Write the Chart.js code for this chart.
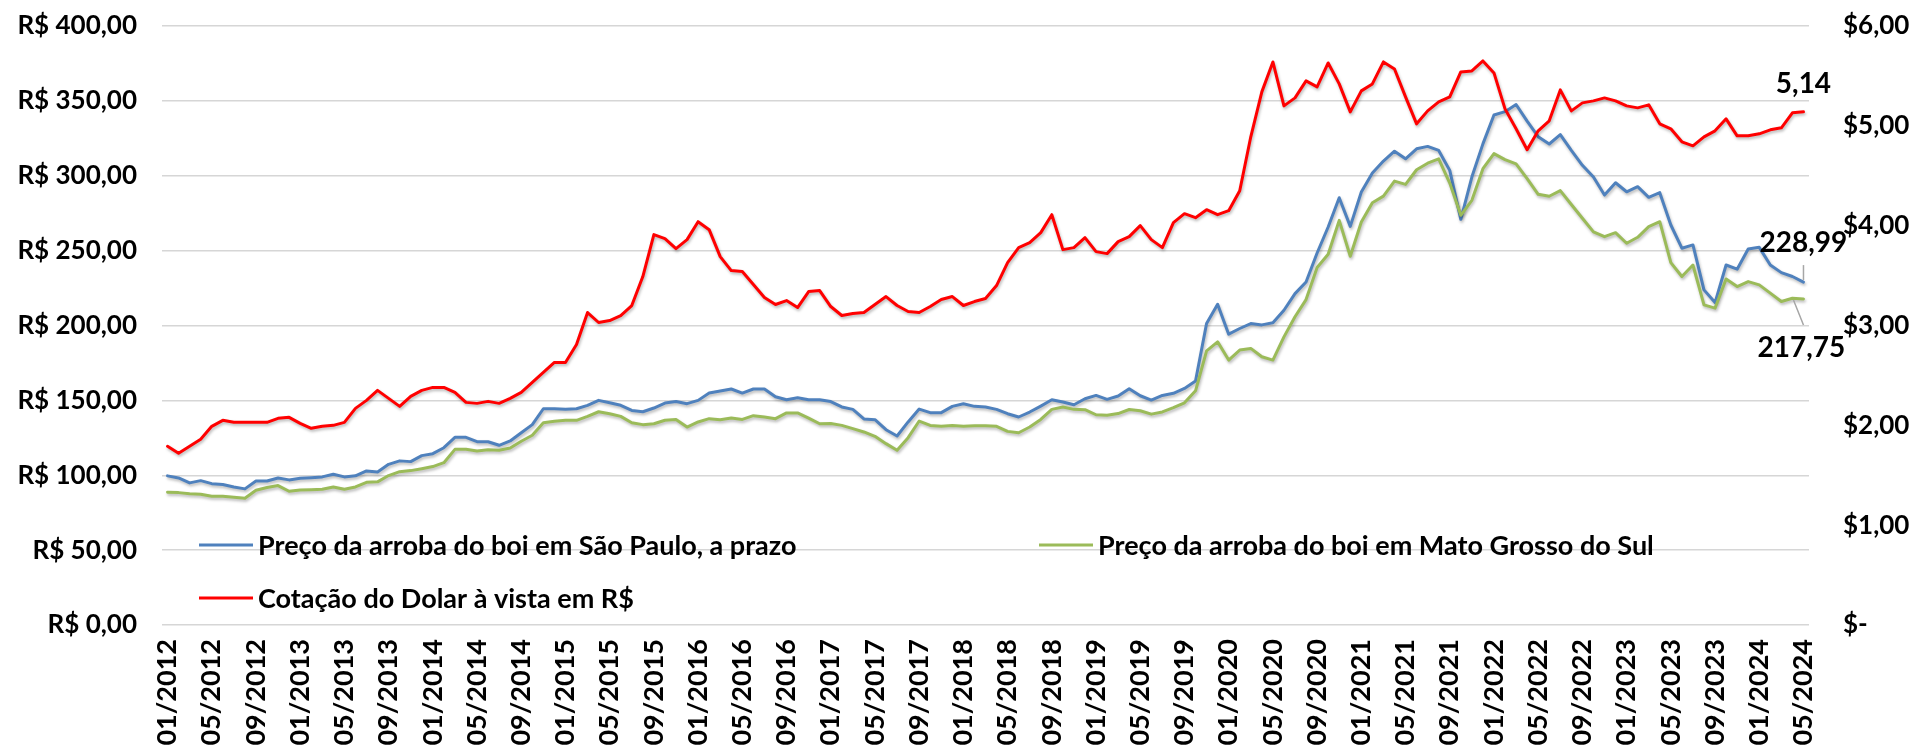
<!DOCTYPE html>
<html>
<head>
<meta charset="utf-8">
<script src="https://cdn.jsdelivr.net/npm/chart.js@4.4.1/dist/chart.umd.min.js"></script>
<style>
html,body{margin:0;padding:0;background:#fff;}
#wrap{width:1916px;height:747px;position:relative;}
</style>
</head>
<body>
<div id="wrap"><canvas id="c" width="1916" height="747"></canvas></div>
<script>
// ---- DATA ----
const startYear = 2012, endYear = 2024, endMonth = 5;
const months = [];
for (let y = startYear; y <= endYear; y++) {
  for (let m = 1; m <= 12; m++) {
    if (y === endYear && m > endMonth) break;
    months.push(String(m).padStart(2, '0') + '/' + y);
  }
}

const seriesNames = [
  'Preço da arroba do boi em São Paulo, a prazo',
  'Preço da arroba do boi em Mato Grosso do Sul',
  'Cotação do Dolar à vista em R$'
];

// Preço da arroba do boi em São Paulo, a prazo (R$)
const boiSP = [
  99.6, 98.2, 94.9, 96.4, 94.4, 93.8, 92.2, 90.9, 96.2, 96.2, 98.2, 96.9,
  98.0, 98.4, 98.9, 100.7, 98.9, 99.6, 102.9, 102.2, 107.3, 109.6, 109.1, 113.1,
  114.4, 118.4, 125.3, 125.3, 122.4, 122.4, 120.0, 122.9, 128.4, 133.8, 144.4, 144.4,
  144.0, 144.4, 146.7, 150.0, 148.4, 146.7, 143.3, 142.4, 144.9, 148.2, 149.3, 147.8,
  150.0, 154.9, 156.2, 157.6, 154.9, 157.6, 157.6, 152.4, 150.4, 151.8, 150.4, 150.4,
  149.2, 145.6, 144.0, 137.6, 137.1, 130.4, 126.2, 135.6, 144.2, 141.8, 141.8, 146.0,
  147.8, 146.0, 145.6, 144.0, 141.1, 138.9, 142.2, 146.2, 150.4, 148.9, 147.1, 151.1,
  153.3, 150.7, 152.9, 157.8, 153.1, 150.2, 153.3, 154.7, 158.0, 162.9, 201.3, 214.2,
  194.2, 198.0, 201.3, 200.4, 201.8, 210.2, 221.3, 229.1, 248.4, 265.8, 285.3, 266.2,
  289.1, 301.8, 309.8, 316.4, 311.3, 318.0, 319.6, 316.9, 303.6, 270.9, 299.1, 321.3,
  340.6, 342.8, 347.6, 336.5, 326.1, 321.2, 327.5, 317.0, 307.0, 299.2, 287.1, 295.3,
  289.3, 292.7, 285.6, 288.7, 267.1, 251.6, 253.8, 223.8, 215.3, 240.4, 237.6, 251.1,
  252.2, 240.4, 235.3, 232.7, 228.99
];

// Preço da arroba do boi em Mato Grosso do Sul (R$)
const boiMS = [
  88.7, 88.4, 87.6, 87.3, 86.0, 86.0, 85.3, 84.7, 90.0, 91.8, 93.1, 89.3,
  90.2, 90.4, 90.7, 92.2, 90.7, 92.2, 95.3, 95.6, 99.8, 102.4, 103.1, 104.4,
  105.8, 108.4, 117.3, 117.3, 116.2, 117.1, 116.7, 118.2, 122.7, 126.7, 135.1, 136.0,
  136.7, 136.7, 139.3, 142.4, 141.1, 139.3, 135.1, 133.8, 134.4, 136.7, 137.3, 132.2,
  135.6, 137.8, 137.1, 138.2, 137.3, 139.8, 138.9, 137.8, 141.6, 141.6, 138.2, 134.4,
  134.6, 133.3, 131.1, 128.9, 126.0, 121.1, 116.7, 125.1, 136.2, 133.3, 132.7, 133.3,
  132.7, 133.1, 133.1, 132.7, 129.3, 128.4, 132.2, 137.3, 144.0, 145.6, 144.0, 143.8,
  140.4, 140.1, 141.2, 143.9, 143.1, 140.8, 142.3, 145.1, 148.4, 156.4, 183.1, 189.1,
  176.9, 183.6, 184.7, 179.1, 176.9, 192.4, 205.8, 217.3, 238.7, 247.6, 270.2, 246.2,
  269.1, 282.0, 286.4, 296.4, 294.2, 304.0, 308.4, 311.3, 295.1, 273.6, 283.6, 304.7,
  314.8, 310.8, 307.9, 298.1, 287.6, 286.3, 290.1, 280.8, 271.6, 262.5, 259.3, 262.0,
  254.9, 258.9, 266.0, 269.3, 242.0, 232.7, 240.4, 213.8, 211.6, 231.1, 226.0, 229.3,
  227.1, 221.6, 216.0, 218.2, 217.75
];

// Cotação do Dolar à vista em R$ (eixo direito)
const dolar = [
  1.79, 1.72, 1.79, 1.86, 1.99, 2.05, 2.03, 2.03, 2.03, 2.03, 2.07, 2.08,
  2.02, 1.97, 1.99, 2.00, 2.03, 2.17, 2.25, 2.35, 2.27, 2.19, 2.29, 2.35,
  2.38, 2.38, 2.33, 2.23, 2.22, 2.24, 2.22, 2.27, 2.33, 2.43, 2.53, 2.63,
  2.63, 2.81, 3.13, 3.03, 3.05, 3.10, 3.20, 3.49, 3.91, 3.87, 3.77, 3.86,
  4.04, 3.96, 3.69, 3.55, 3.54, 3.41, 3.28, 3.21, 3.25, 3.18, 3.34, 3.35,
  3.19, 3.10, 3.12, 3.13, 3.21, 3.29, 3.20, 3.14, 3.13, 3.19, 3.26, 3.29,
  3.20, 3.24, 3.27, 3.40, 3.63, 3.78, 3.83, 3.93, 4.11, 3.76, 3.78, 3.88,
  3.74, 3.72, 3.84, 3.89, 4.00, 3.86, 3.78, 4.03, 4.12, 4.08, 4.16, 4.11,
  4.15, 4.35, 4.89, 5.34, 5.64, 5.20, 5.28, 5.45, 5.39, 5.63, 5.42, 5.14,
  5.35, 5.42, 5.64, 5.57, 5.29, 5.02, 5.15, 5.24, 5.29, 5.54, 5.55, 5.65,
  5.53, 5.17, 4.97, 4.76, 4.95, 5.05, 5.36, 5.15, 5.23, 5.25, 5.28, 5.25,
  5.20, 5.18, 5.21, 5.02, 4.97, 4.84, 4.80, 4.89, 4.95, 5.07, 4.90, 4.90,
  4.92, 4.96, 4.98, 5.13, 5.14
];

const leftTicks = [0, 50, 100, 150, 200, 250, 300, 350, 400];
const rightTicks = [0, 1, 2, 3, 4, 5, 6];

// ---- CHART ----
const FONT = 'Lato';
const fmtBR = v => v.toFixed(2).replace('.', ',');

const shadowPlugin = {
  id: 'shadow',
  beforeDatasetDraw(chart) {
    const ctx = chart.ctx;
    ctx.save();
    ctx.shadowColor = 'rgba(0,0,0,0.28)';
    ctx.shadowBlur = 3;
    ctx.shadowOffsetX = 1;
    ctx.shadowOffsetY = 2;
  },
  afterDatasetDraw(chart) { chart.ctx.restore(); }
};

const annotPlugin = {
  id: 'annot',
  afterDraw(chart) {
    const ctx = chart.ctx;
    const ca = chart.chartArea;
    ctx.save();
    ctx.fillStyle = '#000';
    // legend (drawn inside the plot area)
    ctx.font = 'bold 27px ' + FONT;
    const items = [
      { ds: 0, dx: 37, dy: 519 },
      { ds: 1, dx: 877, dy: 519 },
      { ds: 2, dx: 37, dy: 572 }
    ];
    items.forEach(it => {
      const d = chart.data.datasets[it.ds];
      const x = ca.left + it.dx, y = ca.top + it.dy;
      ctx.strokeStyle = d.borderColor;
      ctx.lineWidth = 3;
      ctx.beginPath(); ctx.moveTo(x, y); ctx.lineTo(x + 54, y); ctx.stroke();
      ctx.textAlign = 'left'; ctx.textBaseline = 'middle';
      ctx.fillText(d.label, x + 59, y + 1);
    });
    // data labels on last points
    ctx.font = 'bold 28px ' + FONT;
    const lastPt = di => { const m = chart.getDatasetMeta(di).data; return m[m.length - 1]; };
    const pB = lastPt(0), pG = lastPt(1), pR = lastPt(2);
    ctx.textAlign = 'center'; ctx.textBaseline = 'alphabetic';
    ctx.fillText(fmtBR(dolar[dolar.length - 1]), pR.x, pR.y - 19);
    ctx.fillText(fmtBR(boiSP[boiSP.length - 1]), pB.x, pB.y - 30);
    ctx.fillText(fmtBR(boiMS[boiMS.length - 1]), pG.x - 2, pG.y + 58);
    ctx.strokeStyle = '#a6a6a6'; ctx.lineWidth = 1.5;
    ctx.beginPath(); ctx.moveTo(pB.x, pB.y - 17); ctx.lineTo(pB.x, pB.y - 2); ctx.stroke();
    ctx.beginPath(); ctx.moveTo(pG.x - 10, pG.y + 1); ctx.lineTo(pG.x, pG.y + 26); ctx.stroke();
    ctx.restore();
  }
};

new Chart(document.getElementById('c'), {
  type: 'line',
  data: {
    labels: months,
    datasets: [
      { label: seriesNames[0], data: boiSP, yAxisID: 'y', borderColor: '#4f81bd', order: 3 },
      { label: seriesNames[1], data: boiMS, yAxisID: 'y', borderColor: '#9bbb59', order: 2 },
      { label: seriesNames[2], data: dolar, yAxisID: 'y1', borderColor: '#ff0000', order: 1 }
    ]
  },
  options: {
    responsive: false,
    devicePixelRatio: 1,
    animation: false,
    layout: { padding: { top: 26, left: 0, right: 0, bottom: 0 } },
    elements: {
      line: { borderWidth: 3, tension: 0, borderJoinStyle: 'round', borderCapStyle: 'round' },
      point: { radius: 0, hoverRadius: 0 }
    },
    plugins: { legend: { display: false }, tooltip: { enabled: false } },
    scales: {
      x: {
        type: 'category',
        offset: true,
        grid: { display: false, drawTicks: false },
        border: { display: false },
        afterFit: s => { s.height = 122; },
        ticks: {
          autoSkip: false, minRotation: 90, maxRotation: 90, padding: 14,
          color: '#000', font: { family: FONT, size: 27, weight: 'bold' },
          callback: function (v, i) { return i % 4 === 0 ? months[i] : ''; }
        }
      },
      y: {
        position: 'left', min: 0, max: 400,
        afterFit: s => { s.width = 162; s.paddingTop = 0; s.paddingBottom = 0; },
        afterBuildTicks: s => { s.ticks = leftTicks.map(v => ({ value: v })); },
        grid: { color: '#d6d6d6', lineWidth: 1.5, drawTicks: false },
        border: { display: false },
        ticks: {
          padding: 25, color: '#000', font: { family: FONT, size: 26, weight: 'bold' },
          callback: v => 'R$ ' + fmtBR(v)
        }
      },
      y1: {
        position: 'right', min: 0, max: 6,
        afterFit: s => { s.width = 107; s.paddingTop = 0; s.paddingBottom = 0; },
        afterBuildTicks: s => { s.ticks = rightTicks.map(v => ({ value: v })); },
        grid: { display: false, drawTicks: false },
        border: { display: false },
        ticks: {
          padding: 34, color: '#000', font: { family: FONT, size: 26, weight: 'bold' },
          callback: v => v === 0 ? '$-' : '$' + fmtBR(v)
        }
      }
    }
  },
  plugins: [shadowPlugin, annotPlugin]
});
</script>
</body>
</html>
